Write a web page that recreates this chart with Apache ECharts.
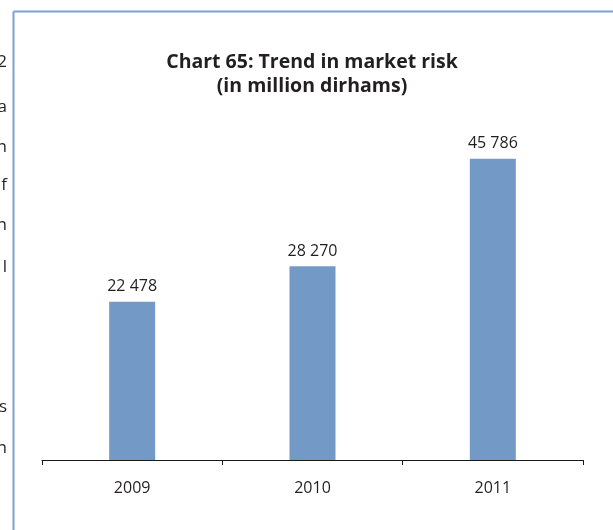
<!DOCTYPE html>
<html>
<head>
<meta charset="utf-8">
<script src="https://cdn.jsdelivr.net/npm/echarts@6/dist/echarts.min.js"></script>
<style>html,body{margin:0;padding:0;background:#fff;}#c{width:613px;height:530px;}</style>
</head>
<body>
<div id="c"></div>
<script>
const categories = ['2009', '2010', '2011'];
const marketRisk = [22478, 28270, 45786];
const titleLines = ['Chart 65: Trend in market risk', '(in million dirhams)'];
const marginFragments = ['2', 'a', 'n', 'f', 'n', 'l', 's', 'n'];
const fragmentY = [62, 107, 147, 185, 225, 267, 407, 448];

const fmt = v => String(v).replace(/\B(?=(\d{3})+(?!\d))/g, ' ');
const chart = echarts.init(document.getElementById('c'), null, {renderer: 'canvas'});
const FONT = '"Open Sans", "Liberation Sans", sans-serif';

const graphics = [
  {type: 'line', shape: {x1: 13.5, y1: 11.5, x2: 613, y2: 11.5}, style: {stroke: '#7ea2d0', lineWidth: 2}},
  {type: 'line', shape: {x1: 13.5, y1: 11.5, x2: 13.5, y2: 530}, style: {stroke: '#7ea2d0', lineWidth: 2}},
  {type: 'text', x: 312, y: 62, style: {text: titleLines[0], font: 'bold 19.5px ' + FONT, fill: '#231f20', textAlign: 'center', textVerticalAlign: 'middle'}},
  {type: 'text', x: 312, y: 86, style: {text: titleLines[1], font: 'bold 19.5px ' + FONT, fill: '#231f20', textAlign: 'center', textVerticalAlign: 'middle'}}
];
marginFragments.forEach((t, i) => {
  graphics.push({type: 'text', x: 7, y: fragmentY[i], style: {text: t, font: '17px ' + FONT, fill: '#231f20', textAlign: 'right', textVerticalAlign: 'middle'}});
});

chart.setOption({
  animation: false,
  backgroundColor: '#fff',
  graphic: graphics,
  grid: {left: 42, right: 30, top: 133, bottom: 70, containLabel: false},
  xAxis: {
    type: 'category',
    data: categories,
    boundaryGap: true,
    axisLine: {onZero: false, lineStyle: {color: '#1a1a1a', width: 1.2}},
    axisTick: {show: true, length: 5, lineStyle: {color: '#1a1a1a'}},
    axisLabel: {color: '#231f20', fontSize: 16, fontFamily: FONT, margin: 20}
  },
  yAxis: {
    type: 'value',
    min: -3300,
    max: 50000,
    startValue: -3300,
    show: false,
    splitLine: {show: false}
  },
  series: [{
    type: 'bar',
    data: marketRisk,
    startValue: -3300,
    barWidth: 46,
    itemStyle: {color: '#7399c6'},
    label: {
      show: true,
      position: 'top',
      distance: 7,
      color: '#231f20',
      fontSize: 16,
      fontFamily: FONT,
      formatter: p => fmt(p.value)
    }
  }]
});
</script>
</body>
</html>
